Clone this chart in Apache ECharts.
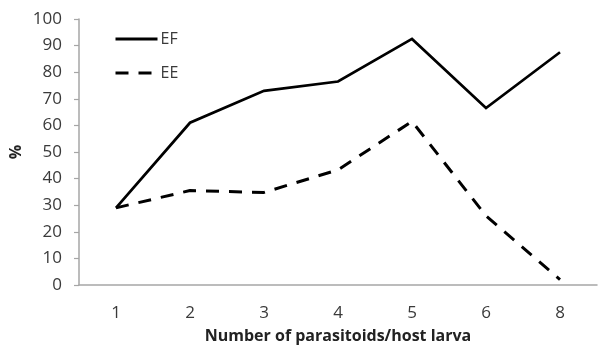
<!DOCTYPE html>
<html>
<head>
<meta charset="utf-8">
<script src="https://cdn.jsdelivr.net/npm/echarts@6/dist/echarts.min.js"></script>
<style>
  html, body { margin: 0; padding: 0; background: #fff; }
  #chart { width: 598px; height: 349px; }
</style>
</head>
<body>
<div id="chart"></div>
<script>
// Number of parasitoids per host larva
const categories = ['1', '2', '3', '4', '5', '6', '8'];
// Percentages for each series
const efValues = [29, 61, 73, 76.5, 92.5, 66.5, 87.5];
const eeValues = [29, 35.5, 34.8, 43.3, 61.5, 26, 2];
// Y-axis tick range
const yMin = 0;
const yMax = 100;
const yStep = 10;

const font = '"Open Sans", sans-serif';
const textColor = '#3a3a3a';
const axisColor = '#a6a6a6';
const chart = echarts.init(document.getElementById('chart'));

chart.setOption({
  animation: false,
  backgroundColor: '#fff',
  textStyle: { fontFamily: font },
  grid: { left: 79, top: 19, right: 1, bottom: 61, containLabel: false },
  legend: {
    orient: 'vertical',
    left: 109,
    top: 26,
    itemWidth: 42,
    itemHeight: 18,
    itemGap: 18,
    itemStyle: { opacity: 0 },
    lineStyle: { width: 3 },
    textStyle: { fontFamily: font, fontSize: 16, color: textColor, padding: [0, 0, 0, -2] },
    data: ['EF', 'EE']
  },
  xAxis: {
    type: 'category',
    data: categories,
    boundaryGap: true,
    name: 'Number of parasitoids/host larva',
    nameLocation: 'middle',
    nameGap: 43,
    nameMoveOverlap: false,
    nameTextStyle: { fontFamily: font, fontSize: 16, fontWeight: 'bold', color: '#222' },
    axisLine: { lineStyle: { color: axisColor, width: 1.5 } },
    axisTick: { show: false },
    axisLabel: { fontSize: 17, color: textColor, margin: 20, fontFamily: font }
  },
  yAxis: {
    type: 'value',
    min: yMin,
    max: yMax,
    interval: yStep,
    name: '%',
    nameLocation: 'middle',
    nameGap: 55,
    nameRotate: 90,
    nameMoveOverlap: false,
    nameTextStyle: { fontFamily: font, fontSize: 16, fontWeight: 'bold', color: '#222' },
    axisLine: { show: true, lineStyle: { color: axisColor, width: 1.5 } },
    axisTick: { show: true, length: 5, lineStyle: { color: axisColor, width: 1.2 } },
    splitLine: { show: false },
    axisLabel: { fontSize: 17, color: textColor, margin: 17, fontFamily: font }
  },
  series: [
    {
      name: 'EF',
      type: 'line',
      data: efValues,
      symbol: 'none',
      color: '#000',
      lineStyle: { color: '#000', width: 2.7, join: 'miter' }
    },
    {
      name: 'EE',
      type: 'line',
      data: eeValues,
      symbol: 'none',
      color: '#000',
      lineStyle: { color: '#000', width: 3, type: [13, 10] }
    }
  ]
});
</script>
</body>
</html>
